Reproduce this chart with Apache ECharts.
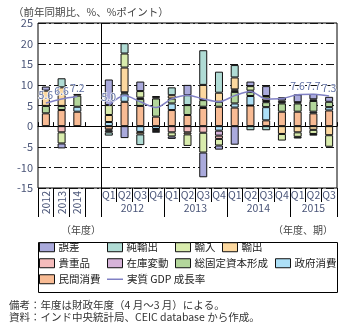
<!DOCTYPE html>
<html><head><meta charset="utf-8">
<script src="https://cdn.jsdelivr.net/npm/echarts@6/dist/echarts.min.js"></script>
<style>html,body{margin:0;padding:0;background:#fff}#c{width:345px;height:326px}</style>
</head><body><div id="c"></div>
<script>
// ---- data ----
const categories = ['2012','2013','2014','',
  '2012Q1','2012Q2','2012Q3','2012Q4',
  '2013Q1','2013Q2','2013Q3','2013Q4',
  '2014Q1','2014Q2','2014Q3','2014Q4',
  '2015Q1','2015Q2','2015Q3'];
const yTicks = { min: -15, max: 25, step: 5 };

const privateCons = [3.1, 3.9, 3.5, null, -0.8, 5.9, 4.9, 2.3, 3.9, 2.7, 4.4, 4.7, 4.5, 5.0, 1.4, 3.5, 3.5, 3.1, 3.8];
const govCons     = [null, null, 1.2, null, 1.0, 2.0, -1.4, -0.7, 1.6, null, 0.3, -1.1, 1.0, 2.3, 3.2, null, null, 0.4, 0.8];
const gfcf        = [1.8, 1.0, 2.7, null, -0.3, 0.3, 1.7, 4.4, 1.2, 2.4, 1.6, 1.2, 2.8, 1.0, 1.2, 2.0, 2.0, 2.6, 1.3];
const inventory   = [null, null, 0.4, null, -0.4, null, 0.3, 0.3, null, null, null, -1.2, 0.3, 0.3, 0.3, 0.3, 0.3, 0.4, null];
const valuables   = [-0.2, -1.5, null, null, null, null, null, -0.5, -1.5, -1.5, -1.6, -0.8, 0.3, null, null, 0.4, null, null, null];
const exportsC    = [3.7, 4.5, null, null, 1.7, 6.0, -0.6, 0.3, 0.8, -0.5, 3.7, 2.2, 2.9, null, 0.6, -1.9, -1.5, -0.9, -2.2];
const importsC    = [null, -2.7, null, null, 2.4, 3.4, 1.6, null, -1.0, -2.8, -4.8, -1.6, null, 1.1, 0.6, -1.6, -1.1, -1.0, -2.8];
const netExports  = [null, 2.2, null, null, -0.8, 2.5, -2.6, null, 1.9, 2.4, 8.4, 5.1, 3.0, -1.0, -1.0, null, -0.4, -0.4, null];
const discrepancy = [1.0, -1.2, null, null, 6.2, -2.9, 2.3, -0.4, -0.6, 2.5, -6.0, -1.0, -4.5, 1.1, 2.4, 0.8, 1.9, 1.3, 1.2];
const gdpGrowth   = [5.6, 6.6, 7.2, null, 5.0, 7.4, 5.9, 4.5, 6.6, 7.5, 6.6, 5.9, 7.4, 8.4, 6.6, 6.7, 7.6, 7.7, 7.3];
const gdpLabelled = ['2012','2013','2014','2012Q1','2015Q1','2015Q2','2015Q3'];

const seriesNames = ['民間消費','政府消費','総固定資本形成','在庫変動','貴重品','輸出','輸入','純輸出','誤差'];
const seriesData  = [privateCons, govCons, gfcf, inventory, valuables, exportsC, importsC, netExports, discrepancy];
const lineName = '実質 GDP 成長率';

// ---- styles / layout ----
const colors = {
  '民間消費':'#f8bb94','政府消費':'#ade0f7','総固定資本形成':'#b3d69b','在庫変動':'#d6b3d9',
  '貴重品':'#f5bcbc','輸出':'#fcd89f','輸入':'#d9ecad','純輸出':'#b0dcd5','誤差':'#aaaadc'
};
const FONT = '"Noto Sans CJK JP","Noto Sans",sans-serif';
const AXISC = '#4a5578';
const N = categories.length;
const isQuarter = c => c.length > 4;
const isAnnual = c => c.length === 4;

// derived tick positions from categories
const tallTicks = [0], shortTicks = [];
const yearGroups = [];
categories.forEach((c, i) => {
  if (i === 0) return;
  const prev = categories[i - 1];
  if (isQuarter(c) && isQuarter(prev) && c.slice(0, 4) === prev.slice(0, 4)) shortTicks.push(i);
  else tallTicks.push(i);
});
tallTicks.push(N);
categories.forEach((c, i) => {
  if (!isQuarter(c)) return;
  const y = c.slice(0, 4);
  let g = yearGroups.find(g => g.year === y);
  if (!g) { g = { year: y, first: i, last: i }; yearGroups.push(g); }
  g.last = i;
});
const yearCenters = yearGroups.map(g => (g.first + g.last + 1) / 2);
const dividerPos = categories.findIndex(isQuarter);

const legendLayout = [
  ['誤差', 39, 242], ['純輸出', 107, 242], ['輸入', 175, 242], ['輸出', 222, 242],
  ['貴重品', 39, 258], ['在庫変動', 107, 258], ['総固定資本形成', 175, 258], ['政府消費', 275, 258],
  ['民間消費', 39, 274], [lineName, 107, 274]
];

const barSeries = seriesNames.map((name, k) => ({
  name, type: 'bar', stack: 'gdp', xAxisIndex: 0, yAxisIndex: 0,
  barWidth: 8,
  itemStyle: { color: colors[name], borderColor: '#111', borderWidth: 1 },
  data: seriesData[k]
}));

const lineSeries = {
  name: lineName, type: 'line', xAxisIndex: 0, yAxisIndex: 0, z: 5,
  smooth: 0.3, connectNulls: false, symbol: 'circle', symbolSize: 0.1, showSymbol: true,
  itemStyle: { color: '#8080c4' },
  lineStyle: { color: '#8080c4', width: 1.5 },
  label: { position: 'top', distance: 3, fontSize: 10.5, color: '#5f70a4',
           textBorderColor: 'rgba(255,255,255,0.85)', textBorderWidth: 1.5, fontFamily: FONT,
           formatter: p => p.value.toFixed(1) },
  data: gdpGrowth.map((v, i) => ({ value: v, label: { show: v != null && gdpLabelled.includes(categories[i]) } }))
};

const valueAxisBase = {
  type: 'value', min: 0, max: N, position: 'bottom',
  axisLine: { show: false, onZero: false }, splitLine: { show: false }
};

const option = {
  animation: false,
  textStyle: { fontFamily: FONT },
  title: [
    { text: '（前年同期比、%、%ポイント）', left: 8, top: 2,
      textStyle: { fontSize: 10.5, fontWeight: 'normal', color: '#444', fontFamily: FONT } },
    { text: '（年度）', left: 56, top: 220,
      textStyle: { fontSize: 10, fontWeight: 'normal', color: '#444', fontFamily: FONT } },
    { text: '（年度、期）', right: 7, top: 220,
      textStyle: { fontSize: 10, fontWeight: 'normal', color: '#444', fontFamily: FONT } },
    { text: '備考：年度は財政年度（4 月〜3 月）による。\n資料：インド中央統計局、CEIC database から作成。',
      left: 4, top: 294,
      textStyle: { fontSize: 10.5, fontWeight: 'normal', color: '#333', lineHeight: 11.7, fontFamily: FONT } }
  ],
  legend: legendLayout.map(([name, x, y]) => {
    const isLine = name === lineName;
    return {
      data: [name], left: x, top: y, padding: 0, orient: 'horizontal',
      icon: 'rect', itemWidth: isLine ? 16 : 15, itemHeight: isLine ? 1.5 : 9,
      itemStyle: isLine ? { color: '#8080c4', borderWidth: 0 } : { borderColor: '#111', borderWidth: 1 },
      lineStyle: isLine ? { width: 0 } : undefined,
      textStyle: { fontSize: 10.5, color: '#222', fontFamily: FONT, padding: [0, 0, 0, -1] },
      selectedMode: false
    };
  }),
  graphic: [
    { type: 'rect', left: 36, top: 240, silent: true,
      shape: { width: 299, height: 50 }, style: { fill: 'none', stroke: '#000', lineWidth: 1 } }
  ],
  grid: { left: 38, right: 8, top: 23, bottom: 138, show: true, borderColor: '#000', borderWidth: 1 },
  yAxis: {
    type: 'value', min: yTicks.min, max: yTicks.max, interval: yTicks.step,
    axisLine: { show: false }, axisTick: { show: false },
    axisLabel: { fontSize: 11, color: AXISC, margin: 5 },
    splitLine: { show: true, lineStyle: { color: '#111', width: 1, type: [8, 3, 2, 3] } }
  },
  xAxis: [
    { type: 'category', data: categories, position: 'bottom',
      axisLine: { onZero: true, lineStyle: { color: '#000', width: 1 } },
      axisTick: { show: true, inside: true, length: 4, interval: 0, lineStyle: { color: '#000' } },
      axisLabel: { show: false }, splitLine: { show: false } },
    { type: 'category', data: categories, position: 'bottom',
      axisLine: { show: false, onZero: false }, axisTick: { show: false },
      axisLabel: { interval: 0, margin: 2, fontSize: 10.5, color: AXISC,
                   formatter: v => isQuarter(v) ? v.slice(4) : '' } },
    { type: 'category', data: categories, position: 'bottom',
      axisLine: { show: false, onZero: false }, axisTick: { show: false },
      axisLabel: { interval: 0, margin: 3, fontSize: 10.5, rotate: 90, color: AXISC,
                   formatter: v => isAnnual(v) ? v : '' } },
    Object.assign({}, valueAxisBase, {
      axisTick: { show: true, length: 14, customValues: shortTicks, lineStyle: { color: '#000' } },
      axisLabel: { show: false } }),
    Object.assign({}, valueAxisBase, {
      axisTick: { show: true, length: 29, customValues: tallTicks, lineStyle: { color: '#000' } },
      axisLabel: { show: true, customValues: yearCenters, margin: 15, fontSize: 10.5, color: AXISC,
                   formatter: v => { const k = yearCenters.indexOf(v); return k >= 0 ? yearGroups[k].year : ''; } } }),
    Object.assign({}, valueAxisBase, {
      axisTick: { show: true, inside: true, length: 165, customValues: [dividerPos], lineStyle: { color: '#000' } },
      axisLabel: { show: false } })
  ],
  series: barSeries.concat([lineSeries])
};

const chart = echarts.init(document.getElementById('c'), null, { renderer: 'canvas' });
chart.setOption(option);
</script>
</body></html>
